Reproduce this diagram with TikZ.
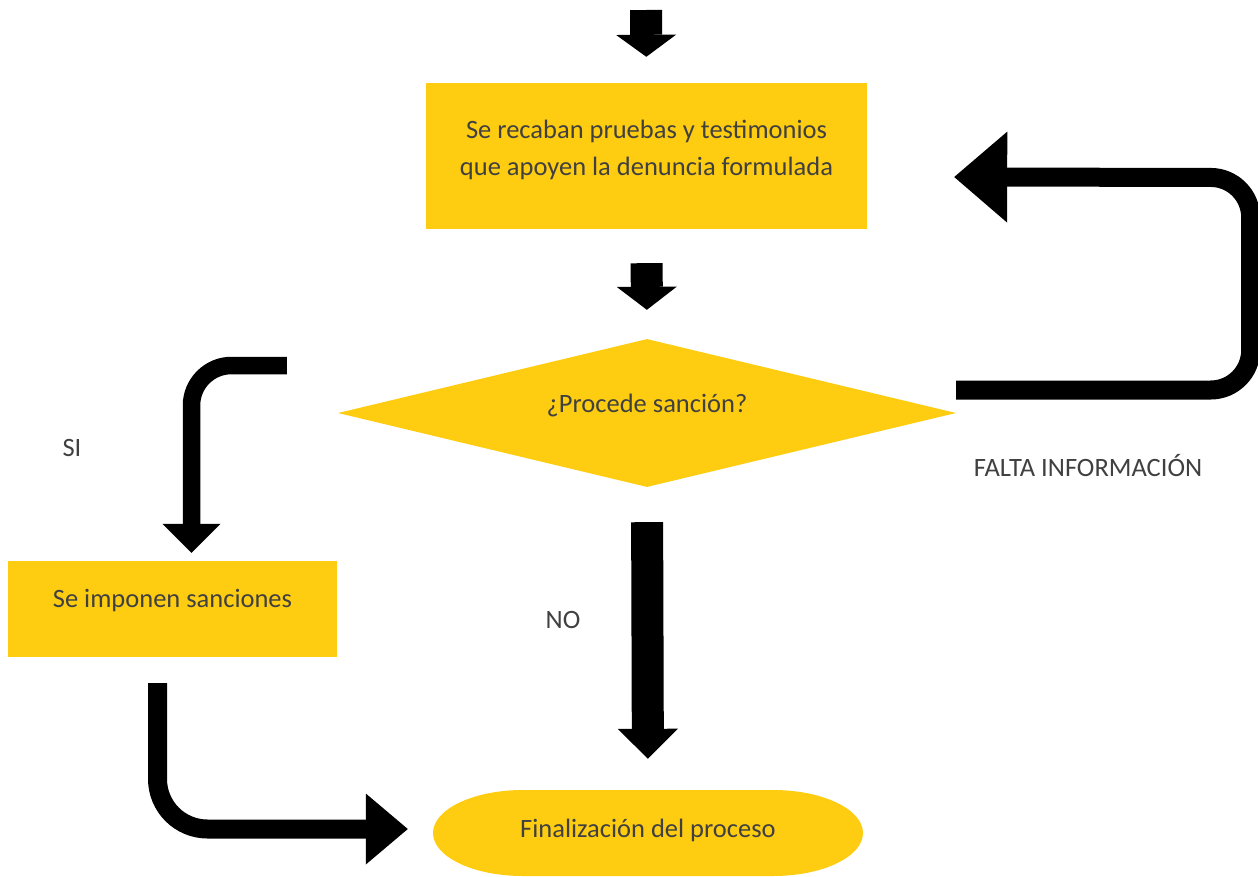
\documentclass[tikz,border=0pt]{standalone}
\usepackage{fontspec}
\setmainfont{Carlito}
\usetikzlibrary{shapes.geometric,arrows.meta}
\definecolor{oro}{RGB}{254,204,17}
\definecolor{texto}{RGB}{64,64,64}

\begin{document}
\begin{tikzpicture}[x=1pt,y=-1pt,
  every node/.style={text=texto,font=\fontsize{26.5}{37}\selectfont},
  caja/.style={fill=oro,inner sep=0pt},
  gruesa/.style={line width=32pt,-{Triangle[length=#1,width=60pt,line width=0pt]}},
  curva/.style={line width=19pt,rounded corners=40pt}]
%\draw (0,0) grid[step=100] (1258,876);
\useasboundingbox (0,0) rectangle (1258,876);

\node [caja,minimum width=441pt,minimum height=146pt] (recaban) at (646.5,156) {};
\node [align=center] (recabantxt) at (646.5,149.5)
  {Se recaban pruebas y testimonios\\ que apoyen la denuncia formulada};
\node [caja,diamond,minimum width=618pt,minimum height=148pt] (procede) at (647,413) {};
\node (procedetxt) at (647,406) {¿Procede sanción?};
\node [caja,minimum width=329pt,minimum height=96pt] (imponen) at (172.5,609) {};
\node (imponentxt) at (172.5,601) {Se imponen sanciones};

% terminal de cierre
\node [inner sep=0pt,minimum width=430pt,minimum height=86pt] (fin) at (648,833) {};
\fill[oro] (523,790) -- (773,790) arc (90:-90:90pt and 43pt) -- (523,876) arc (270:90:90pt and 43pt) -- cycle;
\node (fintxt) at (648,830) {Finalización del proceso};

\node (si) at (72,448) {SI};
\node (no) at (563,620) {NO};
\node (falta) at (1088,466) {FALTA INFORMACIÓN};

\coordinate (inicio) at (646,10);
\draw [gruesa=22pt,shorten >=26pt] (inicio) -- (recaban.north);
\draw [gruesa=23pt,shorten <=34pt,shorten >=29pt] (recaban.south) -- (procede.north);
\draw [gruesa=30pt,shorten <=35pt,shorten >=31pt] (procede.south) -- (fin.north);

\draw [curva,-{Triangle[length=53pt,width=91pt,line width=0pt]}]
  ([yshift=23pt]procede.east) -- ++(294.5,0) -- ++(0,-212.5) -- ([xshift=87pt,yshift=-21pt]recaban.east);
\draw [curva,line width=17.5pt,-{Triangle[length=29pt,width=58pt,line width=0pt]}]
  ([xshift=-51pt,yshift=47.5pt]procede.west) -| ([xshift=19pt,yshift=8pt]imponen.north);
\draw [curva,rounded corners=50pt,-{Triangle[length=42pt,width=71pt,line width=0pt]}]
  ([xshift=-15pt,yshift=-26pt]imponen.south) |- ([xshift=-25pt,yshift=4pt]fin.west);
\end{tikzpicture}
\end{document}
